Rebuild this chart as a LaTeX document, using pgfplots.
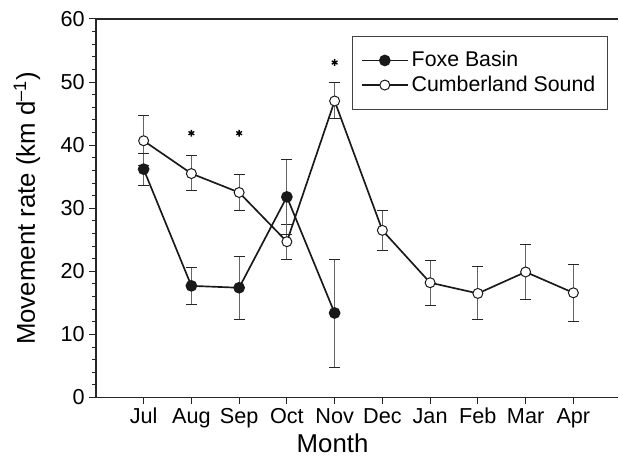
\documentclass[border=0pt]{standalone}
\usepackage{pgfplots}
\usepackage{pgfplotstable}
\pgfplotsset{compat=1.18}
\usepackage{fontspec}
\setmainfont{Liberation Sans}

\pgfplotstableread{
x y ep em
0 40.7 4.0 4.0
1 35.5 2.8 2.7
2 32.5 2.9 2.9
3 24.7 2.7 2.8
4 47.0 2.9 2.7
5 26.5 3.2 3.2
6 18.2 3.5 3.6
7 16.5 4.2 4.2
8 19.9 4.4 4.4
9 16.6 4.5 4.5
}\cumberland

\pgfplotstableread{
x y ep em
0 36.2 2.5 2.6
1 17.7 2.9 2.9
2 17.4 4.9 5.0
3 31.8 5.9 6.0
4 13.4 8.5 8.6
}\foxe

\pgfplotstableread{
x y
1 41.9
2 41.9
4 53.1
}\stars

\begin{document}
\begin{tikzpicture}
\begin{axis}[
  at={(0,0)}, anchor=south west,
  scale only axis, width=313.8pt, height=227.4pt,
  xmin=-1, xmax=9.94, ymin=0, ymax=60,
  axis x line=box, axis y line=left,
  axis line style={-, line width=0.9pt, black!85},
  xtick pos=left,
  tick align=outside,
  xtick={0,...,9},
  xticklabels={Jul,Aug,Sep,Oct,Nov,Dec,Jan,Feb,Mar,Apr},
  ytick={0,10,...,60},
  minor y tick num=4,
  major tick length=4pt, minor tick length=2.5pt,
  tick style={black!85, line width=0.6pt},
  /pgf/number format/assume math mode=true,
  tick label style={font=\fontsize{13}{15}\selectfont},
  xticklabel style={inner sep=2pt, text height=9.6pt, text depth=2.8pt, anchor=north},
  yticklabel style={inner sep=2.5pt},
  xlabel={Month},
  ylabel={Movement rate (km d\textsuperscript{\textendash 1})},
  label style={font=\fontsize{15.5}{18}\selectfont},
  xlabel style={at={(axis description cs:0.453,-0.122)}, anchor=center},
  ylabel style={at={(axis description cs:-0.132,0.5)}, anchor=center},
  legend style={at={(axis description cs:0.981,0.955)}, anchor=north east,
    draw=black!75, line width=0.6pt, font=\fontsize{12.8}{15}\selectfont,
    inner xsep=5.5pt, inner ysep=7pt, row sep=0pt, cells={anchor=west}},
  legend image code/.code={\draw[mark repeat=2,mark phase=2,#1] plot coordinates {(0cm,0cm) (0.48cm,0cm) (0.96cm,0cm)};},
  reverse legend,
  clip=false,
]
\addplot[black!90, line width=1pt, mark=*, mark size=3pt,
  mark options={fill=white, line width=0.6pt},
  error bars/.cd, y dir=both, y explicit,
  error bar style={gray!80!black, line width=0.6pt},
  error mark options={rotate=90, mark size=3.3pt, black!85, line width=0.6pt}]
  table[x=x, y=y, y error plus=ep, y error minus=em]{\cumberland};
\addlegendentry{Cumberland Sound}
\addplot[black!90, line width=1pt, mark=*, mark size=3pt,
  mark options={fill=black!90},
  error bars/.cd, y dir=both, y explicit,
  error bar style={gray!80!black, line width=0.6pt},
  error mark options={rotate=90, mark size=3.3pt, black!85, line width=0.6pt}]
  table[x=x, y=y, y error plus=ep, y error minus=em]{\foxe};
\addlegendentry{Foxe Basin}
\addplot[only marks, mark=asterisk, mark size=2pt, black, line width=0.8pt, forget plot]
  table[x=x, y=y]{\stars};
\end{axis}
\path[use as bounding box] (-57.6pt,-36.6pt) rectangle (313.8pt,238.8pt);
\end{tikzpicture}
\end{document}
